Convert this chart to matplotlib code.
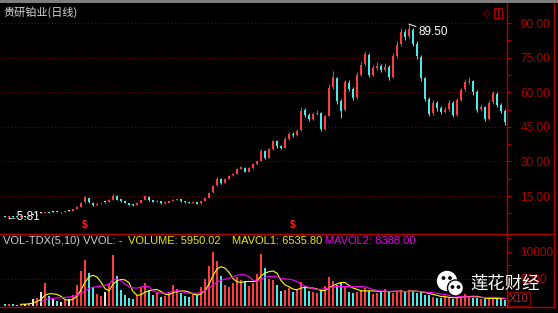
import numpy as np
import pandas as pd
import matplotlib
matplotlib.use("Agg")
import matplotlib.pyplot as plt
import matplotlib.patches as mpatches

W, H = 558, 313

# daily candles (price in yuan), volume in x10 lots
opens = [6.3, 6.0, 6.2, 6.1, 6.0, 6.1, 6.2, 6.9, 7.0, 7.7,
         7.8, 8.0, 8.2, 8.1, 7.9, 8.0, 8.6, 8.7, 9.3, 10.4,
         12.2, 14.0, 12.0, 11.0, 11.8, 12.3, 12.4, 13.3, 15.0, 13.5,
         12.9, 12.0, 11.3, 11.1, 12.0, 13.2, 14.6, 13.2, 12.6, 12.9,
         11.9, 12.1, 12.8, 13.3, 13.6, 12.8, 12.2, 12.0, 12.3, 11.8,
         12.8, 14.1, 16.6, 19.6, 22.3, 20.8, 22.4, 23.9, 24.6, 26.9,
         27.3, 25.6, 27.0, 28.9, 30.3, 34.3, 31.6, 35.3, 38.7, 36.6,
         36.0, 39.9, 42.1, 41.5, 43.5, 52.2, 50.0, 48.3, 50.6, 51.0,
         44.2, 49.8, 62.3, 66.0, 56.0, 52.3, 64.2, 61.5, 57.8, 67.6,
         72.3, 76.0, 67.6, 70.6, 71.5, 69.6, 71.0, 66.8, 75.6, 80.7,
         86.2, 84.2, 87.0, 81.0, 75.3, 66.0, 57.0, 50.8, 55.3, 53.0,
         51.6, 52.6, 55.3, 50.2, 56.6, 61.2, 64.6, 64.8, 60.0, 52.6,
         53.4, 48.6, 55.6, 59.4, 54.5, 52.0]
closes = [6.0, 6.2, 6.1, 6.0, 6.2, 6.1, 6.5, 6.9, 7.3, 7.7,
          8.0, 7.8, 8.2, 8.0, 7.9, 8.3, 8.6, 9.2, 10.3, 12.0,
          14.6, 12.2, 11.0, 11.6, 12.0, 12.3, 13.2, 15.2, 13.4, 12.8,
          12.0, 11.3, 11.0, 12.0, 13.2, 14.8, 13.2, 12.6, 13.0, 11.9,
          12.1, 12.8, 13.3, 13.6, 12.8, 12.2, 12.0, 12.3, 11.7, 12.8,
          14.0, 16.5, 19.5, 22.5, 20.8, 22.4, 23.8, 24.5, 26.8, 27.4,
          25.6, 27.0, 28.8, 30.2, 34.5, 31.5, 35.2, 38.8, 36.5, 36.0,
          39.8, 42.0, 41.5, 43.2, 52.0, 50.0, 48.2, 50.5, 51.2, 44.0,
          49.5, 62.0, 66.5, 56.0, 52.0, 64.5, 61.5, 57.5, 67.5, 72.0,
          76.5, 67.5, 70.5, 71.5, 69.5, 71.0, 66.5, 75.5, 80.5, 86.0,
          84.0, 87.5, 81.0, 75.5, 66.0, 57.0, 50.5, 55.5, 53.0, 51.5,
          52.5, 55.5, 50.0, 56.5, 61.0, 64.5, 65.0, 60.0, 52.5, 53.5,
          48.5, 55.5, 59.5, 54.5, 52.0, 47.0]
highs = [6.4, 6.3, 6.3, 6.2, 6.3, 6.3, 6.6, 7.1, 7.4, 7.9,
         8.2, 8.1, 8.4, 8.3, 8.1, 8.4, 8.8, 9.4, 10.5, 12.3,
         15.2, 14.3, 12.2, 11.8, 12.3, 12.6, 13.5, 15.8, 15.3, 13.7,
         13.0, 12.1, 11.5, 12.2, 13.4, 15.2, 14.8, 13.4, 13.2, 13.0,
         12.3, 13.0, 13.5, 13.9, 13.7, 12.9, 12.4, 12.5, 12.4, 13.0,
         14.2, 16.8, 19.9, 23.2, 22.8, 22.8, 24.2, 25.0, 27.3, 28.0,
         27.6, 27.4, 29.3, 30.8, 35.2, 34.8, 35.8, 39.5, 39.2, 37.2,
         40.5, 42.8, 42.9, 44.0, 53.5, 53.0, 50.8, 51.3, 52.2, 51.5,
         50.3, 63.5, 69.0, 66.8, 57.0, 65.5, 65.2, 62.2, 68.8, 73.5,
         78.0, 76.8, 71.8, 73.0, 72.4, 72.5, 71.6, 77.0, 82.0, 87.8,
         87.5, 89.5, 88.0, 82.0, 76.0, 66.8, 57.8, 56.5, 56.2, 54.0,
         53.5, 56.5, 56.0, 57.5, 62.0, 65.8, 66.8, 65.5, 60.8, 54.8,
         54.0, 56.5, 60.5, 60.0, 55.3, 52.8]
lows = [5.81, 5.9, 6.0, 5.9, 5.9, 6.0, 6.1, 6.7, 6.9, 7.5,
        7.7, 7.6, 8.0, 7.9, 7.7, 7.9, 8.4, 8.6, 9.2, 10.3,
        12.0, 12.0, 10.8, 10.9, 11.6, 12.0, 12.3, 13.2, 13.2, 12.6,
        11.8, 11.1, 10.8, 11.0, 11.9, 13.1, 13.0, 12.4, 12.4, 11.7,
        11.7, 12.0, 12.7, 13.2, 12.6, 12.0, 11.8, 11.9, 11.5, 11.7,
        12.7, 14.0, 16.4, 19.4, 20.4, 20.6, 22.2, 23.5, 24.4, 26.5,
        25.2, 25.4, 26.8, 28.6, 30.0, 31.0, 31.3, 35.0, 36.0, 35.4,
        35.8, 39.5, 40.8, 41.0, 43.2, 49.2, 47.5, 47.8, 50.0, 43.0,
        43.8, 49.5, 61.5, 55.0, 49.0, 52.0, 60.5, 56.5, 57.2, 67.0,
        71.5, 66.5, 67.0, 69.8, 68.8, 69.0, 65.5, 66.2, 75.0, 80.2,
        82.5, 83.5, 80.0, 74.5, 65.0, 56.0, 49.5, 50.0, 52.0, 50.5,
        50.8, 52.0, 49.2, 49.8, 56.0, 60.5, 63.5, 59.0, 51.5, 51.8,
        47.5, 48.0, 55.0, 53.5, 51.0, 46.0]
volumes = [300, 350, 300, 250, 400, 350, 600, 1200, 1500, 2500,
           4200, 1800, 1200, 900, 800, 1100, 1300, 2000, 3800, 6500,
           8400, 6000, 3500, 2200, 1800, 2500, 4000, 9400, 5500, 3000,
           2000, 1500, 1300, 2000, 3500, 4300, 3000, 2000, 2300, 1700,
           1800, 2600, 3800, 3200, 2400, 1800, 1600, 2200, 2000, 3500,
           5000, 7400, 9900, 8200, 5500, 3800, 3500, 4200, 5300, 4800,
           4600, 3600, 4200, 5800, 9500, 7000, 5000, 4800, 3800, 2800,
           3000, 3300, 2600, 3200, 4400, 3600, 2800, 2500, 2300, 3000,
           3600, 5300, 4600, 3800, 4300, 3500, 2600, 2300, 2600, 3000,
           3300, 2700, 2200, 2400, 2800, 3200, 2500, 2400, 2600, 2900,
           2600, 3000, 2700, 2300, 2500, 2000, 2100, 1700, 1500, 1400,
           1800, 1600, 1300, 1500, 1900, 2200, 1800, 1500, 1400, 1200,
           1300, 1600, 1500, 1300, 1200, 1100]

price_ticks = [15, 30, 45, 60, 75, 90]
price_labels = ["15.00", "30.00", "45.00", "60.00", "75.00", "90.00"]
vol_ticks = [5000, 10000]
vol_labels = ["5000", "10000"]
dividend_days = [20, 72]

title = "贵研铂业(日线)"
vol_head = "VOL-TDX(5,10) VVOL: -"
vol_text = "VOLUME: 5950.02"
ma1_text = "MAVOL1: 6535.80"
ma2_text = "MAVOL2: 8388.00"

RED_UP = "#ff3c3c"
CYAN_DN = "#45eaea"
DOJI = "#e6e6e6"
AXRED = "#b00000"
LBL = ["Liberation Sans", "DejaVu Sans"]
CJK = ["Noto Sans CJK SC", "DejaVu Sans"]


def px(x, y):
    return x / W, 1 - y / H


def candle_colors(o, c):
    cols = []
    for a, b in zip(o, c):
        if b > a:
            cols.append(RED_UP)
        elif b < a:
            cols.append(CYAN_DN)
        else:
            cols.append(DOJI)
    return cols


o = np.array(opens); c = np.array(closes)
hi = np.array(highs); lo = np.array(lows)
vol = np.array(volumes)
idx = np.arange(len(o))
cols = candle_colors(o, c)

fig = plt.figure(figsize=(W / 100, H / 100), dpi=100, facecolor="black")

# ---- price panel
ax = fig.add_axes([1 / W, 1 - 233 / H, 506 / W, 230 / H], facecolor="black")
ax.set_xlim(-1, 125.5)
ax.set_ylim(90 - 210 / 2.307, 90 + 20 / 2.307)
for p in price_ticks:
    ax.axhline(p, color="#7a0000", lw=0.8, ls=(0, (1, 2)), zorder=1)
ax.vlines(idx, lo, hi, colors=cols, lw=0.7, zorder=2)
body_lo = np.minimum(o, c)
body_h = np.maximum(np.abs(c - o), 0.35)
ax.bar(idx, body_h, bottom=body_lo, width=0.62, color=cols, lw=0, zorder=3)

imin = int(np.argmin(lo)); imax = int(np.argmax(hi))
ax.text(imin + 0.2, lo[imin], "\u2190" + "%.2f" % lo[imin], color="white",
        fontsize=8.5, family=LBL, ha="left", va="center", zorder=5)
ax.annotate("%.2f" % hi[imax], xy=(imax, hi[imax]), xytext=(7, -6),
            textcoords="offset points", color="white", fontsize=8.5,
            family=LBL, ha="left", va="center",
            arrowprops=dict(arrowstyle="-", color="white", lw=0.7,
                            shrinkA=0, shrinkB=0))
for d in dividend_days:
    ax.text(d, 2.4, "$", color="#ff2020", fontsize=7, fontweight="bold",
            family=LBL, ha="center", va="center")

ax.yaxis.tick_right()
ax.set_yticks(price_ticks)
ax.set_yticklabels(price_labels)
ax.set_yticks([p + 7.5 for p in [0] + price_ticks[:-1]], minor=True)
ax.tick_params(axis="y", which="both", colors=AXRED, length=3, width=0.8,
               pad=6.5, labelsize=8.5)
for t in ax.get_yticklabels():
    t.set_family(LBL)
ax.set_xticks([])
for s in ax.spines.values():
    s.set_visible(False)

# ---- volume panel
av = fig.add_axes([1 / W, 1 - 306 / H, 506 / W, 72 / H], facecolor="black")
av.set_xlim(-1, 125.5)
av.set_ylim(0, 72 / 54.5 * 10000)
av.axhline(5000, color="#7a0000", lw=0.8, ls=(0, (1, 2)), zorder=1)
av.bar(idx, vol, width=0.7, color=cols, lw=0, zorder=2)
ma5 = pd.Series(vol).rolling(5).mean()
ma10 = pd.Series(vol).rolling(10).mean()
av.plot(idx, ma5, color="#ffff00", lw=0.8, zorder=3)
av.plot(idx, ma10, color="#ff00ff", lw=0.8, zorder=3)
av.yaxis.tick_right()
av.set_yticks(vol_ticks)
av.set_yticklabels(vol_labels)
av.set_yticks([2500, 7500, 12500], minor=True)
av.tick_params(axis="y", which="both", colors=AXRED, length=3, width=0.8,
               pad=6.5, labelsize=8.5)
for t in av.get_yticklabels():
    t.set_family(LBL)
av.set_xticks([])
for s in av.spines.values():
    s.set_visible(False)

# ---- frame, headers and watermark
ov = fig.add_axes([0, 0, 1, 1], facecolor="none")
ov.set_xlim(0, W); ov.set_ylim(H, 0); ov.axis("off")
ov.add_patch(mpatches.Rectangle((0, 0), W, 3, color="#7d7d7d", lw=0))
ov.plot([507, 507], [3, 307], color=AXRED, lw=1)
ov.plot([554, 554], [3, 307], color=AXRED, lw=1)
ov.plot([0, 554], [233.5, 233.5], color=AXRED, lw=1)
ov.plot([0, 554], [307, 307], color=AXRED, lw=1)
ov.add_patch(mpatches.Rectangle((508, 292), 22, 14, fill=False,
                                ec="#800000", lw=0.8))
ov.text(519, 299.5, "X10", color="#a83030", fontsize=8, family=LBL,
        ha="center", va="center")
ov.text(487, 13, "\u25c7", color=AXRED, fontsize=7, family=["DejaVu Sans"],
        ha="center", va="center")
ov.add_patch(mpatches.Rectangle((494, 8), 8, 10, fill=False, ec=AXRED, lw=0.8))
ov.plot([498, 498], [8, 18], color=AXRED, lw=0.8)

ov.text(3, 12, title, color="#d8d8d8", fontsize=8, family=CJK,
        ha="left", va="center")
ov.text(3, 241, vol_head, color="#d0d0d0", fontsize=8, family=LBL,
        ha="left", va="center")
ov.text(128, 241, vol_text, color="#e8e800", fontsize=8, family=LBL,
        ha="left", va="center")
ov.text(232, 241, ma1_text, color="#e8e800", fontsize=8, family=LBL,
        ha="left", va="center")
ov.text(325, 241, ma2_text, color="#e000e0", fontsize=8, family=LBL,
        ha="left", va="center")

# wechat-like bubbles + account name
ov.add_patch(mpatches.Circle((447, 281), 9.5, color="white", zorder=10))
ov.add_patch(mpatches.Circle((455.5, 288), 8, fc="white", ec="black",
                             lw=1, zorder=11))
for ex, ey, z in [(443.5, 278, 12), (450, 278, 12), (452.5, 287, 12), (458.5, 287, 12)]:
    ov.add_patch(mpatches.Circle((ex, ey), 1.2, color="black", zorder=z))
ov.text(470, 284, "莲花财经", color="white", fontsize=12.5, family=CJK,
        ha="left", va="center", zorder=12)

fig.savefig("out.png", dpi=100, facecolor="black")
